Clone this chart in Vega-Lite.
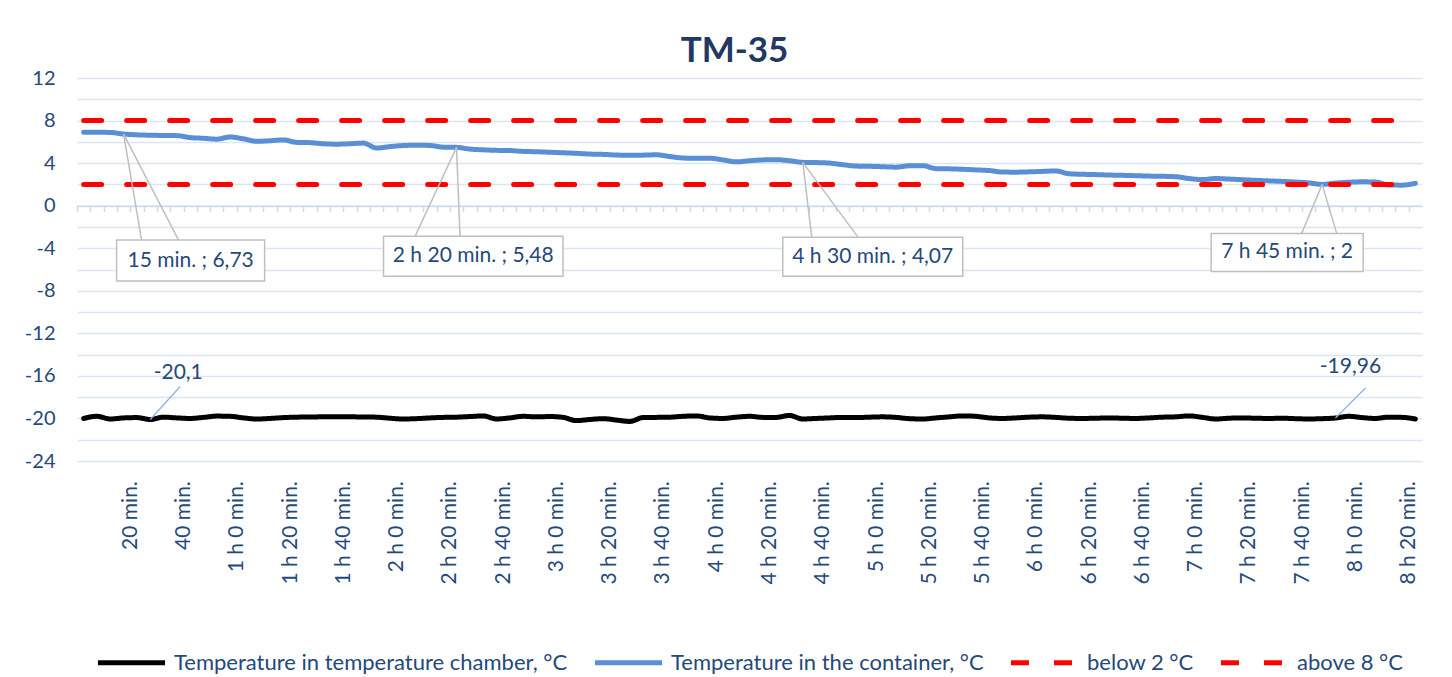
{
  "$schema": "https://vega.github.io/schema/vega-lite/v6.json",
  "width": 1345,
  "height": 383,
  "autosize": "none",
  "padding": {"left": 77, "top": 78, "right": 30, "bottom": 216},
  "background": "white",
  "title": {"text": "TM-35", "font": "Lato", "fontSize": 35, "fontWeight": "bold", "color": "#1F3864", "anchor": "middle", "frame": "group", "dx": -15, "offset": -1},
  "config": {
    "view": {"stroke": null},
    "font": "Lato"
  },
  "datasets": {
    "series": [
      {"s":"Temperature in temperature chamber, °C","t":0,"v":-20.00},{"s":"Temperature in temperature chamber, °C","t":5,"v":-19.80},{"s":"Temperature in temperature chamber, °C","t":10,"v":-20.05},{"s":"Temperature in temperature chamber, °C","t":15,"v":-19.95},{"s":"Temperature in temperature chamber, °C","t":20,"v":-19.92},{"s":"Temperature in temperature chamber, °C","t":25,"v":-20.10},{"s":"Temperature in temperature chamber, °C","t":30,"v":-19.88},{"s":"Temperature in temperature chamber, °C","t":35,"v":-19.95},{"s":"Temperature in temperature chamber, °C","t":40,"v":-20.00},{"s":"Temperature in temperature chamber, °C","t":45,"v":-19.90},
      {"s":"Temperature in temperature chamber, °C","t":50,"v":-19.78},{"s":"Temperature in temperature chamber, °C","t":55,"v":-19.80},{"s":"Temperature in temperature chamber, °C","t":60,"v":-19.95},{"s":"Temperature in temperature chamber, °C","t":65,"v":-20.05},{"s":"Temperature in temperature chamber, °C","t":70,"v":-20.00},{"s":"Temperature in temperature chamber, °C","t":75,"v":-19.92},{"s":"Temperature in temperature chamber, °C","t":80,"v":-19.88},{"s":"Temperature in temperature chamber, °C","t":85,"v":-19.86},{"s":"Temperature in temperature chamber, °C","t":90,"v":-19.85},{"s":"Temperature in temperature chamber, °C","t":95,"v":-19.85},
      {"s":"Temperature in temperature chamber, °C","t":100,"v":-19.85},{"s":"Temperature in temperature chamber, °C","t":105,"v":-19.86},{"s":"Temperature in temperature chamber, °C","t":110,"v":-19.88},{"s":"Temperature in temperature chamber, °C","t":115,"v":-19.98},{"s":"Temperature in temperature chamber, °C","t":120,"v":-20.05},{"s":"Temperature in temperature chamber, °C","t":125,"v":-20.02},{"s":"Temperature in temperature chamber, °C","t":130,"v":-19.95},{"s":"Temperature in temperature chamber, °C","t":135,"v":-19.90},{"s":"Temperature in temperature chamber, °C","t":140,"v":-19.88},{"s":"Temperature in temperature chamber, °C","t":145,"v":-19.82},
      {"s":"Temperature in temperature chamber, °C","t":150,"v":-19.76},{"s":"Temperature in temperature chamber, °C","t":155,"v":-20.05},{"s":"Temperature in temperature chamber, °C","t":160,"v":-19.95},{"s":"Temperature in temperature chamber, °C","t":165,"v":-19.80},{"s":"Temperature in temperature chamber, °C","t":170,"v":-19.85},{"s":"Temperature in temperature chamber, °C","t":175,"v":-19.82},{"s":"Temperature in temperature chamber, °C","t":180,"v":-19.90},{"s":"Temperature in temperature chamber, °C","t":185,"v":-20.20},{"s":"Temperature in temperature chamber, °C","t":190,"v":-20.10},{"s":"Temperature in temperature chamber, °C","t":195,"v":-20.02},
      {"s":"Temperature in temperature chamber, °C","t":200,"v":-20.15},{"s":"Temperature in temperature chamber, °C","t":205,"v":-20.28},{"s":"Temperature in temperature chamber, °C","t":210,"v":-19.92},{"s":"Temperature in temperature chamber, °C","t":215,"v":-19.90},{"s":"Temperature in temperature chamber, °C","t":220,"v":-19.88},{"s":"Temperature in temperature chamber, °C","t":225,"v":-19.80},{"s":"Temperature in temperature chamber, °C","t":230,"v":-19.76},{"s":"Temperature in temperature chamber, °C","t":235,"v":-19.95},{"s":"Temperature in temperature chamber, °C","t":240,"v":-20.00},{"s":"Temperature in temperature chamber, °C","t":245,"v":-19.88},
      {"s":"Temperature in temperature chamber, °C","t":250,"v":-19.80},{"s":"Temperature in temperature chamber, °C","t":255,"v":-19.90},{"s":"Temperature in temperature chamber, °C","t":260,"v":-19.90},{"s":"Temperature in temperature chamber, °C","t":265,"v":-19.72},{"s":"Temperature in temperature chamber, °C","t":270,"v":-20.05},{"s":"Temperature in temperature chamber, °C","t":275,"v":-20.00},{"s":"Temperature in temperature chamber, °C","t":280,"v":-19.95},{"s":"Temperature in temperature chamber, °C","t":285,"v":-19.90},{"s":"Temperature in temperature chamber, °C","t":290,"v":-19.92},{"s":"Temperature in temperature chamber, °C","t":295,"v":-19.88},
      {"s":"Temperature in temperature chamber, °C","t":300,"v":-19.85},{"s":"Temperature in temperature chamber, °C","t":305,"v":-19.90},{"s":"Temperature in temperature chamber, °C","t":310,"v":-20.02},{"s":"Temperature in temperature chamber, °C","t":315,"v":-20.05},{"s":"Temperature in temperature chamber, °C","t":320,"v":-19.95},{"s":"Temperature in temperature chamber, °C","t":325,"v":-19.85},{"s":"Temperature in temperature chamber, °C","t":330,"v":-19.76},{"s":"Temperature in temperature chamber, °C","t":335,"v":-19.80},{"s":"Temperature in temperature chamber, °C","t":340,"v":-19.95},{"s":"Temperature in temperature chamber, °C","t":345,"v":-20.00},
      {"s":"Temperature in temperature chamber, °C","t":350,"v":-19.95},{"s":"Temperature in temperature chamber, °C","t":355,"v":-19.88},{"s":"Temperature in temperature chamber, °C","t":360,"v":-19.85},{"s":"Temperature in temperature chamber, °C","t":365,"v":-19.90},{"s":"Temperature in temperature chamber, °C","t":370,"v":-19.98},{"s":"Temperature in temperature chamber, °C","t":375,"v":-20.00},{"s":"Temperature in temperature chamber, °C","t":380,"v":-19.98},{"s":"Temperature in temperature chamber, °C","t":385,"v":-19.95},{"s":"Temperature in temperature chamber, °C","t":390,"v":-19.98},{"s":"Temperature in temperature chamber, °C","t":395,"v":-20.00},
      {"s":"Temperature in temperature chamber, °C","t":400,"v":-19.95},{"s":"Temperature in temperature chamber, °C","t":405,"v":-19.88},{"s":"Temperature in temperature chamber, °C","t":410,"v":-19.85},{"s":"Temperature in temperature chamber, °C","t":415,"v":-19.76},{"s":"Temperature in temperature chamber, °C","t":420,"v":-19.90},{"s":"Temperature in temperature chamber, °C","t":425,"v":-20.05},{"s":"Temperature in temperature chamber, °C","t":430,"v":-19.98},{"s":"Temperature in temperature chamber, °C","t":435,"v":-19.95},{"s":"Temperature in temperature chamber, °C","t":440,"v":-19.98},{"s":"Temperature in temperature chamber, °C","t":445,"v":-20.00},
      {"s":"Temperature in temperature chamber, °C","t":450,"v":-19.98},{"s":"Temperature in temperature chamber, °C","t":455,"v":-20.02},{"s":"Temperature in temperature chamber, °C","t":460,"v":-20.05},{"s":"Temperature in temperature chamber, °C","t":465,"v":-20.02},{"s":"Temperature in temperature chamber, °C","t":470,"v":-19.96},{"s":"Temperature in temperature chamber, °C","t":475,"v":-19.80},{"s":"Temperature in temperature chamber, °C","t":480,"v":-19.92},{"s":"Temperature in temperature chamber, °C","t":485,"v":-20.00},{"s":"Temperature in temperature chamber, °C","t":490,"v":-19.88},{"s":"Temperature in temperature chamber, °C","t":495,"v":-19.90},
      {"s":"Temperature in temperature chamber, °C","t":500,"v":-20.05},
      {"s":"Temperature in the container, °C","t":0,"v":6.90},{"s":"Temperature in the container, °C","t":5,"v":6.90},{"s":"Temperature in the container, °C","t":10,"v":6.88},{"s":"Temperature in the container, °C","t":15,"v":6.73},{"s":"Temperature in the container, °C","t":20,"v":6.66},{"s":"Temperature in the container, °C","t":25,"v":6.62},{"s":"Temperature in the container, °C","t":30,"v":6.60},{"s":"Temperature in the container, °C","t":35,"v":6.58},{"s":"Temperature in the container, °C","t":40,"v":6.40},{"s":"Temperature in the container, °C","t":45,"v":6.33},
      {"s":"Temperature in the container, °C","t":50,"v":6.25},{"s":"Temperature in the container, °C","t":55,"v":6.45},{"s":"Temperature in the container, °C","t":60,"v":6.28},{"s":"Temperature in the container, °C","t":65,"v":6.05},{"s":"Temperature in the container, °C","t":70,"v":6.10},{"s":"Temperature in the container, °C","t":75,"v":6.18},{"s":"Temperature in the container, °C","t":80,"v":5.95},{"s":"Temperature in the container, °C","t":85,"v":5.92},{"s":"Temperature in the container, °C","t":90,"v":5.82},{"s":"Temperature in the container, °C","t":95,"v":5.78},
      {"s":"Temperature in the container, °C","t":100,"v":5.82},{"s":"Temperature in the container, °C","t":105,"v":5.88},{"s":"Temperature in the container, °C","t":110,"v":5.42},{"s":"Temperature in the container, °C","t":115,"v":5.55},{"s":"Temperature in the container, °C","t":120,"v":5.65},{"s":"Temperature in the container, °C","t":125,"v":5.68},{"s":"Temperature in the container, °C","t":130,"v":5.66},{"s":"Temperature in the container, °C","t":135,"v":5.50},{"s":"Temperature in the container, °C","t":140,"v":5.48},{"s":"Temperature in the container, °C","t":145,"v":5.32},
      {"s":"Temperature in the container, °C","t":150,"v":5.25},{"s":"Temperature in the container, °C","t":155,"v":5.20},{"s":"Temperature in the container, °C","t":160,"v":5.18},{"s":"Temperature in the container, °C","t":165,"v":5.10},{"s":"Temperature in the container, °C","t":170,"v":5.07},{"s":"Temperature in the container, °C","t":175,"v":5.02},{"s":"Temperature in the container, °C","t":180,"v":4.97},{"s":"Temperature in the container, °C","t":185,"v":4.92},{"s":"Temperature in the container, °C","t":190,"v":4.85},{"s":"Temperature in the container, °C","t":195,"v":4.82},
      {"s":"Temperature in the container, °C","t":200,"v":4.76},{"s":"Temperature in the container, °C","t":205,"v":4.74},{"s":"Temperature in the container, °C","t":210,"v":4.75},{"s":"Temperature in the container, °C","t":215,"v":4.78},{"s":"Temperature in the container, °C","t":220,"v":4.62},{"s":"Temperature in the container, °C","t":225,"v":4.48},{"s":"Temperature in the container, °C","t":230,"v":4.45},{"s":"Temperature in the container, °C","t":235,"v":4.46},{"s":"Temperature in the container, °C","t":240,"v":4.30},{"s":"Temperature in the container, °C","t":245,"v":4.12},
      {"s":"Temperature in the container, °C","t":250,"v":4.22},{"s":"Temperature in the container, °C","t":255,"v":4.30},{"s":"Temperature in the container, °C","t":260,"v":4.32},{"s":"Temperature in the container, °C","t":265,"v":4.22},{"s":"Temperature in the container, °C","t":270,"v":4.07},{"s":"Temperature in the container, °C","t":275,"v":4.05},{"s":"Temperature in the container, °C","t":280,"v":4.00},{"s":"Temperature in the container, °C","t":285,"v":3.85},{"s":"Temperature in the container, °C","t":290,"v":3.72},{"s":"Temperature in the container, °C","t":295,"v":3.70},
      {"s":"Temperature in the container, °C","t":300,"v":3.66},{"s":"Temperature in the container, °C","t":305,"v":3.62},{"s":"Temperature in the container, °C","t":310,"v":3.75},{"s":"Temperature in the container, °C","t":315,"v":3.76},{"s":"Temperature in the container, °C","t":320,"v":3.48},{"s":"Temperature in the container, °C","t":325,"v":3.46},{"s":"Temperature in the container, °C","t":330,"v":3.42},{"s":"Temperature in the container, °C","t":335,"v":3.36},{"s":"Temperature in the container, °C","t":340,"v":3.30},{"s":"Temperature in the container, °C","t":345,"v":3.16},
      {"s":"Temperature in the container, °C","t":350,"v":3.15},{"s":"Temperature in the container, °C","t":355,"v":3.18},{"s":"Temperature in the container, °C","t":360,"v":3.22},{"s":"Temperature in the container, °C","t":365,"v":3.26},{"s":"Temperature in the container, °C","t":370,"v":3.00},{"s":"Temperature in the container, °C","t":375,"v":2.95},{"s":"Temperature in the container, °C","t":380,"v":2.92},{"s":"Temperature in the container, °C","t":385,"v":2.88},{"s":"Temperature in the container, °C","t":390,"v":2.85},{"s":"Temperature in the container, °C","t":395,"v":2.82},
      {"s":"Temperature in the container, °C","t":400,"v":2.78},{"s":"Temperature in the container, °C","t":405,"v":2.76},{"s":"Temperature in the container, °C","t":410,"v":2.72},{"s":"Temperature in the container, °C","t":415,"v":2.55},{"s":"Temperature in the container, °C","t":420,"v":2.45},{"s":"Temperature in the container, °C","t":425,"v":2.55},{"s":"Temperature in the container, °C","t":430,"v":2.50},{"s":"Temperature in the container, °C","t":435,"v":2.44},{"s":"Temperature in the container, °C","t":440,"v":2.38},{"s":"Temperature in the container, °C","t":445,"v":2.33},
      {"s":"Temperature in the container, °C","t":450,"v":2.28},{"s":"Temperature in the container, °C","t":455,"v":2.22},{"s":"Temperature in the container, °C","t":460,"v":2.14},{"s":"Temperature in the container, °C","t":465,"v":2.00},{"s":"Temperature in the container, °C","t":470,"v":2.12},{"s":"Temperature in the container, °C","t":475,"v":2.20},{"s":"Temperature in the container, °C","t":480,"v":2.24},{"s":"Temperature in the container, °C","t":485,"v":2.22},{"s":"Temperature in the container, °C","t":490,"v":1.95},{"s":"Temperature in the container, °C","t":495,"v":1.93},
      {"s":"Temperature in the container, °C","t":500,"v":2.10},
      {"s":"below 2 °C","t":0,"v":2},{"s":"below 2 °C","t":500,"v":2},
      {"s":"above 8 °C","t":0,"v":8},{"s":"above 8 °C","t":500,"v":8}
    ]
  },
  "encoding": {
    "x": {
      "field": "t", "type": "quantitative", "title": null,
      "scale": {"domain": [-2.5, 502.5], "nice": false, "zero": false},
      "axis": {
        "offset": -255.33,
        "values": [0,5,10,15,20,25,30,35,40,45,50,55,60,65,70,75,80,85,90,95,100,105,110,115,120,125,130,135,140,145,150,155,160,165,170,175,180,185,190,195,200,205,210,215,220,225,230,235,240,245,250,255,260,265,270,275,280,285,290,295,300,305,310,315,320,325,330,335,340,345,350,355,360,365,370,375,380,385,390,395,400,405,410,415,420,425,430,435,440,445,450,455,460,465,470,475,480,485,490,495,500],
        "labelExpr": "datum.value > 0 && datum.value % 20 == 0 ? (datum.value < 60 ? datum.value + ' min.' : floor(datum.value / 60) + ' h ' + (datum.value % 60) + ' min.') : ''",
        "labelAngle": -90,
        "labelPadding": 269,
        "labelOverlap": false,
        "labelFlush": false,
        "labelBound": false,
        "labelFont": "Lato",
        "labelFontSize": 21,
        "labelColor": "#24497A",
        "tickSize": 6,
        "tickOffset": -6.66,
        "tickColor": "#CBDAEE",
        "tickWidth": 1.5,
        "domainColor": "#CBDAEE",
        "domainWidth": 1.5,
        "grid": false
      }
    },
    "y": {
      "field": "v", "type": "quantitative", "title": null,
      "scale": {"domain": [-24, 12], "nice": false, "zero": false},
      "axis": {
        "values": [-24,-22,-20,-18,-16,-14,-12,-10,-8,-6,-4,-2,0,2,4,6,8,10,12],
        "labelExpr": "datum.value % 4 == 0 ? '' + datum.value : ''",
        "grid": true,
        "gridColor": "#DCE6F3",
        "gridWidth": 1.5,
        "ticks": false,
        "domain": false,
        "labelPadding": 22,
        "labelFont": "Lato",
        "labelFontSize": 20,
        "labelColor": "#24497A"
      }
    }
  },
  "layer": [
    {
      "data": {"name": "series"},
      "mark": {"type": "line", "strokeWidth": 5, "strokeCap": "round", "strokeJoin": "round", "interpolate": "monotone"},
      "encoding": {
        "color": {
          "field": "s", "type": "nominal",
          "scale": {"domain": ["Temperature in temperature chamber, °C", "Temperature in the container, °C", "below 2 °C", "above 8 °C"], "range": ["#000000", "#5A8FD6", "#FF0000", "#FF0000"]},
          "legend": {
            "title": null, "orient": "none", "legendX": 18, "legendY": 548, "direction": "horizontal",
            "symbolType": "stroke", "symbolStrokeWidth": 5, "symbolSize": 4500,
            "labelFont": "Lato", "labelFontSize": 22, "labelColor": "#24497A", "labelOffset": 6, "columnPadding": 16, "labelLimit": 0
          }
        },
        "strokeDash": {
          "field": "s", "type": "nominal",
          "scale": {"domain": ["Temperature in temperature chamber, °C", "Temperature in the container, °C", "below 2 °C", "above 8 °C"], "range": [[1, 0], [1, 0], [18, 25], [18, 25]]}
        },
        "detail": {"field": "s"}
      }
    },
    {
      "data": {"values": [{"t": 15, "v": 6.73, "label": "15 min. ; 6,73"}]},
      "layer": [
        {"mark": {"type": "rule", "stroke": "#BFBFBF", "strokeWidth": 1.5, "x2Offset": 18, "y2Offset": 106}, "encoding": {"x2": {"field": "t"}, "y2": {"field": "v"}}},
        {"mark": {"type": "rule", "stroke": "#BFBFBF", "strokeWidth": 1.5, "x2Offset": 55, "y2Offset": 106}, "encoding": {"x2": {"field": "t"}, "y2": {"field": "v"}}},
        {"mark": {"type": "rect", "fill": "white", "stroke": "#BFBFBF", "strokeWidth": 1.5, "xOffset": -7, "x2Offset": 141, "yOffset": 106, "y2Offset": 147}, "encoding": {"x2": {"field": "t"}, "y2": {"field": "v"}}},
        {"mark": {"type": "text", "dx": 67, "dy": 126.5, "align": "center", "baseline": "middle", "font": "Lato", "fontSize": 21, "color": "#24497A"}, "encoding": {"text": {"field": "label"}}}
      ]
    },
    {
      "data": {"values": [{"t": 140, "v": 5.48, "label": "2 h 20 min. ; 5,48"}]},
      "layer": [
        {"mark": {"type": "rule", "stroke": "#BFBFBF", "strokeWidth": 1.5, "x2Offset": -41.5, "y2Offset": 89}, "encoding": {"x2": {"field": "t"}, "y2": {"field": "v"}}},
        {"mark": {"type": "rule", "stroke": "#BFBFBF", "strokeWidth": 1.5, "x2Offset": 3.5, "y2Offset": 89}, "encoding": {"x2": {"field": "t"}, "y2": {"field": "v"}}},
        {"mark": {"type": "rect", "fill": "white", "stroke": "#BFBFBF", "strokeWidth": 1.5, "xOffset": -73, "x2Offset": 106.5, "yOffset": 89, "y2Offset": 129}, "encoding": {"x2": {"field": "t"}, "y2": {"field": "v"}}},
        {"mark": {"type": "text", "dx": 16.75, "dy": 109, "align": "center", "baseline": "middle", "font": "Lato", "fontSize": 21, "color": "#24497A"}, "encoding": {"text": {"field": "label"}}}
      ]
    },
    {
      "data": {"values": [{"t": 270, "v": 4.07, "label": "4 h 30 min. ; 4,07"}]},
      "layer": [
        {"mark": {"type": "rule", "stroke": "#BFBFBF", "strokeWidth": 1.5, "x2Offset": 9, "y2Offset": 75}, "encoding": {"x2": {"field": "t"}, "y2": {"field": "v"}}},
        {"mark": {"type": "rule", "stroke": "#BFBFBF", "strokeWidth": 1.5, "x2Offset": 55.4, "y2Offset": 75}, "encoding": {"x2": {"field": "t"}, "y2": {"field": "v"}}},
        {"mark": {"type": "rect", "fill": "white", "stroke": "#BFBFBF", "strokeWidth": 1.5, "xOffset": -20, "x2Offset": 160, "yOffset": 75, "y2Offset": 114}, "encoding": {"x2": {"field": "t"}, "y2": {"field": "v"}}},
        {"mark": {"type": "text", "dx": 70, "dy": 94.5, "align": "center", "baseline": "middle", "font": "Lato", "fontSize": 21, "color": "#24497A"}, "encoding": {"text": {"field": "label"}}}
      ]
    },
    {
      "data": {"values": [{"t": 465, "v": 2, "label": "7 h 45 min. ; 2"}]},
      "layer": [
        {"mark": {"type": "rule", "stroke": "#BFBFBF", "strokeWidth": 1.5, "x2Offset": -20.4, "y2Offset": 49}, "encoding": {"x2": {"field": "t"}, "y2": {"field": "v"}}},
        {"mark": {"type": "rule", "stroke": "#BFBFBF", "strokeWidth": 1.5, "x2Offset": 14.6, "y2Offset": 49}, "encoding": {"x2": {"field": "t"}, "y2": {"field": "v"}}},
        {"mark": {"type": "rect", "fill": "white", "stroke": "#BFBFBF", "strokeWidth": 1.5, "xOffset": -111, "x2Offset": 41, "yOffset": 49, "y2Offset": 87}, "encoding": {"x2": {"field": "t"}, "y2": {"field": "v"}}},
        {"mark": {"type": "text", "dx": -35, "dy": 68, "align": "center", "baseline": "middle", "font": "Lato", "fontSize": 21, "color": "#24497A"}, "encoding": {"text": {"field": "label"}}}
      ]
    },
    {
      "data": {"values": [{"t": 25, "v": -20.1, "label": "-20,1"}]},
      "layer": [
        {"mark": {"type": "rule", "stroke": "#8EB4E3", "strokeWidth": 1.3, "x2Offset": 30, "y2Offset": -33}, "encoding": {"x2": {"field": "t"}, "y2": {"field": "v"}}},
        {"mark": {"type": "text", "dx": 28, "dy": -47, "align": "center", "baseline": "middle", "font": "Lato", "fontSize": 21, "color": "#24497A"}, "encoding": {"text": {"field": "label"}}}
      ]
    },
    {
      "data": {"values": [{"t": 470, "v": -19.96, "label": "-19,96"}]},
      "layer": [
        {"mark": {"type": "rule", "stroke": "#8EB4E3", "strokeWidth": 1.3, "x2Offset": 30, "y2Offset": -30}, "encoding": {"x2": {"field": "t"}, "y2": {"field": "v"}}},
        {"mark": {"type": "text", "dx": 15, "dy": -51, "align": "center", "baseline": "middle", "font": "Lato", "fontSize": 21, "color": "#24497A"}, "encoding": {"text": {"field": "label"}}}
      ]
    }
  ]
}
